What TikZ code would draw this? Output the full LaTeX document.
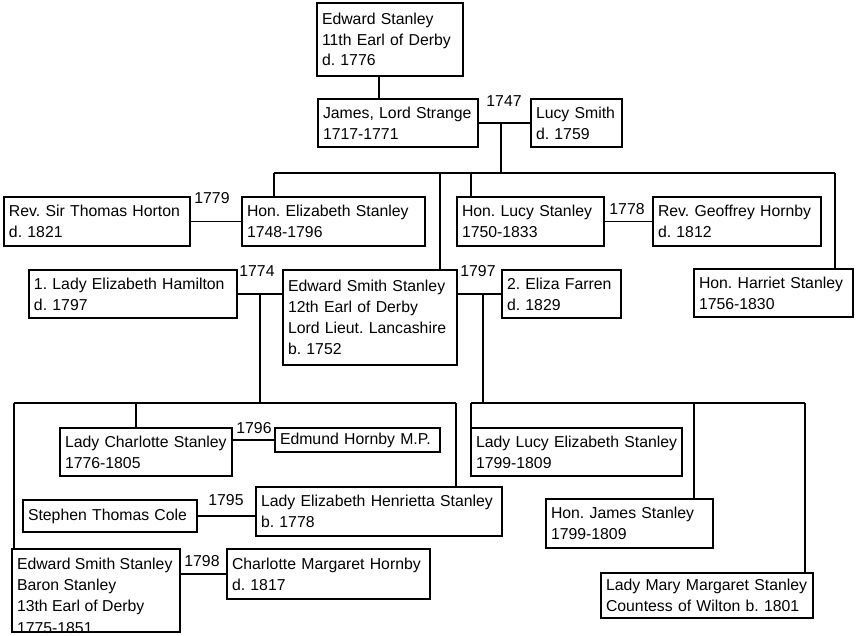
\documentclass[tikz,border=0pt]{standalone}
\usepackage{fontspec}
\setmainfont{Liberation Sans}
\frenchspacing
\begin{document}
\begin{tikzpicture}[x=1pt,y=-1pt,
  person/.style={draw, line width=1.8pt, anchor=north west, outer sep=0pt,
    inner xsep=5pt, inner ysep=0pt, align=left,
    font=\fontsize{15.8}{20.8}\selectfont\frenchspacing},
  plain/.style={inner sep=0pt, outer sep=0pt, align=left, anchor=north west,
    font=\fontsize{15.8}{21.2}\selectfont\frenchspacing},
  yr/.style={inner sep=0pt, outer sep=0pt, font=\fontsize{15.8}{20}\selectfont},
  link/.style={line width=1.8pt}]
\useasboundingbox (0,0) rectangle (857,636);

% people
\node[person, text width=136pt, minimum height=73pt] (es11) at (317,3)
  {\mbox{Edward Stanley}\\\mbox{11th Earl of Derby}\\\mbox{d. 1776}};
\node[person, text width=150pt, minimum height=48pt] (james) at (318,99)
  {\mbox{James, Lord Strange}\\\mbox{1717-1771}};
\node[person, text width=81pt, minimum height=48pt] (lucy) at (531,99)
  {\mbox{Lucy Smith}\\\mbox{d. 1759}};
\node[person, text width=176pt, minimum height=49pt] (horton) at (4,197)
  {\mbox{Rev. Sir Thomas Horton}\\\mbox{d. 1821}};
\node[person, text width=173pt, minimum height=49pt] (elizS) at (242,197)
  {\mbox{Hon. Elizabeth Stanley}\\\mbox{1748-1796}};
\node[person, text width=137pt, minimum height=49pt] (lucyS) at (457,197)
  {\mbox{Hon. Lucy Stanley}\\\mbox{1750-1833}};
\node[person, text width=158pt, minimum height=49pt] (hornbyG) at (653,197)
  {\mbox{Rev. Geoffrey Hornby}\\\mbox{d. 1812}};
\node[person, text width=198pt, minimum height=48pt] (hamilton) at (29,270)
  {\mbox{1. Lady Elizabeth Hamilton}\\\mbox{d. 1797}};
\node[person, text width=164pt, minimum height=95pt] (es12) at (283,270)
  {\mbox{Edward Smith Stanley}\\\mbox{12th Earl of Derby}\\\mbox{Lord Lieut. Lancashire}\\\mbox{b. 1752}};
\node[person, text width=109pt, minimum height=48pt] (farren) at (502,270)
  {\mbox{2. Eliza Farren}\\\mbox{d. 1829}};
\node[person, text width=149pt, minimum height=48pt] (harriet) at (694,269)
  {\mbox{Hon. Harriet Stanley}\\\mbox{1756-1830}};
\node[person, text width=162pt, minimum height=48pt] (charlotte) at (60,428)
  {\mbox{Lady Charlotte Stanley}\\\mbox{1776-1805}};
\node[person, text width=155pt, minimum height=24pt] (edmund) at (275,428)
  {\mbox{Edmund Hornby M.P.}};
\node[person, text width=164pt, minimum height=32pt] (cole) at (23,500)
  {\mbox{Stephen Thomas Cole}};
\node[person, text width=236pt, minimum height=49pt] (henrietta) at (256,487)
  {\mbox{Lady Elizabeth Henrietta Stanley}\\\mbox{b. 1778}};
\node[plain] (es13text) at (17,558)
  {\mbox{Edward Smith Stanley}\\\mbox{Baron Stanley}\\\mbox{13th Earl of Derby}\\\mbox{1775-1851}};
\node[person, text width=158pt, minimum height=83pt] (es13) at (12,549) {};
\node[person, text width=193pt, minimum height=50pt] (cmh) at (227,549)
  {\mbox{Charlotte Margaret Hornby}\\\mbox{d. 1817}};
\node[person, text width=201pt, minimum height=48pt] (lucyE) at (471,428)
  {\mbox{Lady Lucy Elizabeth Stanley}\\\mbox{1799-1809}};
\node[person, text width=157pt, minimum height=49pt] (jamesH) at (546,499)
  {\mbox{Hon. James Stanley}\\\mbox{1799-1809}};
\node[person, text width=202pt, minimum height=45pt] (mary) at (601,573)
  {\mbox{Lady Mary Margaret Stanley}\\\mbox{Countess of Wilton b. 1801}};

% marriage years
\node[yr] (y1747) at (504,101) {1747};
\node[yr] (y1779) at (212,198) {1779};
\node[yr] (y1778) at (627,209) {1778};
\node[yr] (y1774) at (257,271) {1774};
\node[yr] (y1797) at (478,271) {1797};
\node[yr] (y1796) at (254,428) {1796};
\node[yr] (y1795) at (226,500) {1795};
\node[yr] (y1798) at (202,561) {1798};

% junction coordinates
\coordinate (d1) at (501,123);
\coordinate (b1) at (501,173);
\coordinate (b1l) at (274,173);
\coordinate (b1r) at (835,173);
\coordinate (v1) at (440,173);
\coordinate (v2) at (471,173);
\coordinate (d2) at (260,294);
\coordinate (b2) at (260,403);
\coordinate (d3) at (483,294);
\coordinate (b3) at (483,403);
\coordinate (bl1) at (14,403);
\coordinate (bl2) at (456,403);
\coordinate (v3) at (136,403);
\coordinate (br1) at (471,403);
\coordinate (br2) at (805,403);
\coordinate (v4) at (694,403);

% generation 1
\draw[link] ([xshift=-11pt]es11.south) -- ([xshift=-19pt]james.north);
\draw[link] (james.east) -- (lucy.west);
\draw[link] (d1) -- (b1);
\draw[link] (b1l) -- (b1r);
\draw[link] (b1l) -- (b1l |- elizS.north);
\draw[link] (v1) -- (v1 |- es12.north);
\draw[link] (v2) -- (v2 |- lucyS.north);
\draw[link] (b1r) -- (b1r |- harriet.north);

% generation 2 marriages
\draw[link] (horton.east) -- (elizS.west);
\draw[link] (lucyS.east) -- (hornbyG.west);
\draw[link] (hamilton.east) -- (hamilton.east -| es12.west);
\draw[link] (farren.west -| es12.east) -- (farren.west);
\draw[link] (d2) -- (b2);
\draw[link] (d3) -- (b3);

% generation 3, first marriage
\draw[link] (bl1) -- (bl2);
\draw[link] (bl1) -- (bl1 |- es13.north);
\draw[link] (v3) -- (v3 |- charlotte.north);
\draw[link] (bl2) -- (bl2 |- henrietta.north);

% generation 3, second marriage
\draw[link] (br1) -- (br2);
\draw[link] (br1) -- (br1 |- lucyE.north);
\draw[link] (v4) -- (v4 |- jamesH.north);
\draw[link] (br2) -- (br2 |- mary.north);

% generation 3 marriages
\draw[link] (edmund.west -| charlotte.east) -- (edmund.west);
\draw[link] (cole.east) -- (cole.east -| henrietta.west);
\draw[link] (cmh.west -| es13.east) -- (cmh.west);
\end{tikzpicture}
\end{document}
